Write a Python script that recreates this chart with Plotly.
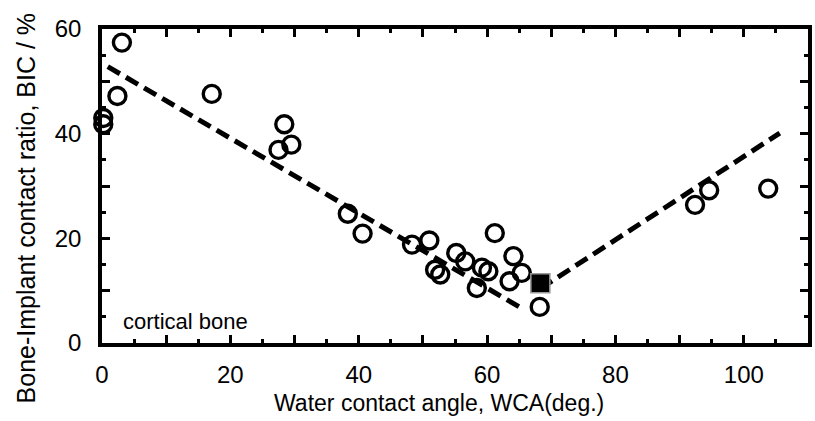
import plotly.graph_objects as go

# Data
wca = [0.2, 0.2, 2.4, 3.1, 17.1, 27.5, 28.4, 29.5, 38.3, 40.6, 48.3, 51.0, 51.9, 52.7,
       55.2, 56.6, 58.4, 59.2, 60.2, 61.2, 63.5, 64.1, 65.4, 68.2, 92.4, 94.6, 103.8]
bic = [43.0, 41.8, 47.2, 57.4, 47.6, 36.9, 41.8, 37.9, 24.7, 20.9, 18.8, 19.6, 14.0, 13.1,
       17.2, 15.6, 10.5, 14.4, 13.7, 21.0, 11.8, 16.6, 13.4, 6.9, 26.4, 29.2, 29.5]
square_wca = [68.3]
square_bic = [11.4]
fit1_wca = [0.9, 65.3]
fit1_bic = [52.8, 6.7]
fit2_wca = [68.3, 105.6]
fit2_bic = [10.4, 40.1]

x_tickvals = [0, 10, 20, 30, 40, 50, 60, 70, 80, 90, 100]
x_ticktext = ["0", "", "20", "", "40", "", "60", "", "80", "", "100"]
y_tickvals = [0, 10, 20, 30, 40, 50, 60]
y_ticktext = ["0", "", "20", "", "40", "", "60"]

FONT = "Liberation Sans, Arial, sans-serif"

fig = go.Figure()
fig.add_trace(go.Scatter(x=wca, y=bic, mode="markers",
                         marker=dict(symbol="circle-open", size=17, color="black",
                                     line=dict(width=3.4, color="black")),
                         cliponaxis=False, showlegend=False))
fig.add_trace(go.Scatter(x=fit1_wca, y=fit1_bic, mode="lines",
                         line=dict(color="black", width=5, dash="14px,7px"),
                         showlegend=False))
fig.add_trace(go.Scatter(x=fit2_wca, y=fit2_bic, mode="lines",
                         line=dict(color="black", width=5, dash="14px,7px"),
                         showlegend=False))
fig.add_trace(go.Scatter(x=square_wca, y=square_bic, mode="markers",
                         marker=dict(symbol="square", size=19, color="black",
                                     line=dict(width=1.5, color="#999999")),
                         showlegend=False))

fig.add_annotation(x=3.0, y=4.1, text="cortical bone", showarrow=False,
                   xanchor="left", yanchor="middle",
                   font=dict(family=FONT, size=22, color="black"))

# axis titles, placed like the reference
fig.add_annotation(xref="paper", yref="paper", x=-0.107, y=0.43,
                   text="Bone-Implant contact ratio, BIC / %", showarrow=False,
                   textangle=-90, xanchor="center", yanchor="middle",
                   font=dict(family=FONT, size=25, color="black"))
fig.add_annotation(xref="paper", yref="paper", x=0.478, y=-0.19,
                   text="Water contact angle, WCA(deg.)", showarrow=False,
                   xanchor="center", yanchor="middle",
                   font=dict(family=FONT, size=23, color="black"))

axis_common = dict(showline=True, linecolor="black", linewidth=3.5, mirror="ticks",
                   ticks="inside", ticklen=8, tickwidth=3, tickcolor="black",
                   showgrid=False, zeroline=False,
                   tickfont=dict(family=FONT, size=24, color="black"))

fig.update_xaxes(range=[0, 110], tickvals=x_tickvals, ticktext=x_ticktext,
                 minor=dict(ticks="inside", ticklen=4, tickwidth=3, tickcolor="black",
                            tickvals=[5, 15, 25, 35, 45, 55, 65, 75, 85, 95, 105], showgrid=False),
                 ticklabelstandoff=7,
                 **axis_common)
fig.update_yaxes(range=[0, 60], tickvals=y_tickvals, ticktext=y_ticktext,
                 minor=dict(ticks="inside", ticklen=4, tickwidth=3, tickcolor="black",
                            tickvals=[5, 15, 25, 35, 45, 55], showgrid=False),
                 ticklabelstandoff=12,
                 **axis_common)

fig.update_layout(width=815, height=421, margin=dict(l=102, r=3, t=29, b=78),
                  plot_bgcolor="white", paper_bgcolor="white")

fig.write_html("out.html")
